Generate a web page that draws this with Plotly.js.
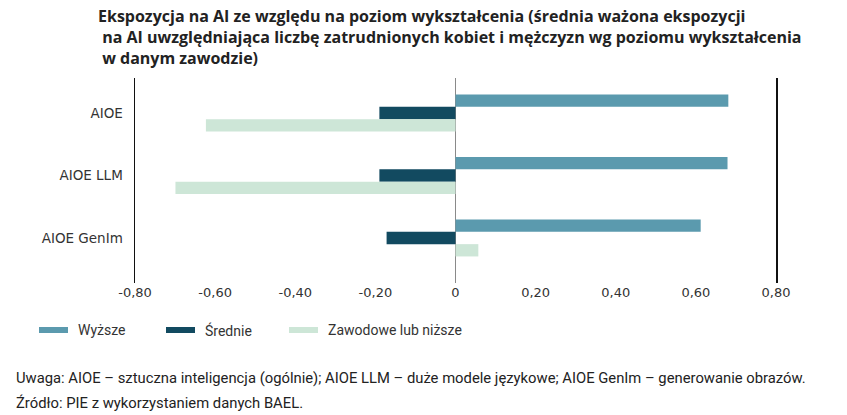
<!DOCTYPE html>
<html>
<head>
<meta charset="utf-8">
<script src="https://cdn.plot.ly/plotly-3.0.1.min.js"></script>
<style>
  html, body { margin: 0; padding: 0; background: #fff; }
  #plot { width: 847px; height: 415px; }
</style>
</head>
<body>
<div id="plot"></div>
<script>
// categories (top to bottom)
const categories = ['AIOE', 'AIOE LLM', 'AIOE GenIm'];

// series names and values
const seriesNames = ['Wyższe', 'Średnie', 'Zawodowe lub niższe'];
const wyzsze = [0.681, 0.679, 0.612];
const srednie = [-0.190, -0.190, -0.172];
const zawodowe = [-0.623, -0.699, 0.057];

const seriesColors = ['#5b9aae', '#124a60', '#cde6d7'];

const xTickVals = [-0.8, -0.6, -0.4, -0.2, 0, 0.2, 0.4, 0.6, 0.8];
const xTickText = ['-0,80', '-0,60', '-0,40', '-0,20', '0', '0,20', '0,40', '0,60', '0,80'];

const titleText = 'Ekspozycja na AI ze względu na poziom wykształcenia (średnia ważona ekspozycji<br>' +
    '&nbsp;na AI uwzględniająca liczbę zatrudnionych kobiet i mężczyzn wg poziomu wykształcenia<br>' +
    '&nbsp;w danym zawodzie)';
const noteText = 'Uwaga: AIOE – sztuczna inteligencja (ogólnie); AIOE LLM – duże modele językowe; AIOE GenIm – generowanie obrazów.';
const sourceText = 'Źródło: PIE z wykorzystaniem danych BAEL.';

const textFont = 'Roboto, sans-serif';
const titleFont = 'Open Sans, sans-serif';
const axisFont = 'DejaVu Sans, sans-serif';

let values = [wyzsze, srednie, zawodowe];
let traces = [];
for (let i = 0; i < seriesNames.length; i++) {
    traces.push({
        type: 'bar',
        orientation: 'h',
        name: seriesNames[i],
        y: categories,
        x: values[i],
        marker: {color: seriesColors[i]},
        hoverinfo: 'x+name'
    });
}

// pixel position -> paper coordinates (plot area 135..776 x 78..283)
function px(x) { return (x - 135) / 641; }
function py(y) { return (283 - y) / 205; }

// hand-made legend with wide swatches
let legendX = [39, 166, 289];
let shapes = [];
let annotations = [];
for (let i = 0; i < seriesNames.length; i++) {
    shapes.push({
        type: 'rect', xref: 'paper', yref: 'paper',
        x0: px(legendX[i]), x1: px(legendX[i] + 29),
        y0: py(333), y1: py(327),
        fillcolor: seriesColors[i], line: {width: 0}
    });
    annotations.push({
        xref: 'paper', yref: 'paper',
        x: px(legendX[i] + 37), y: py(330),
        xanchor: 'left', yanchor: 'middle', showarrow: false,
        text: seriesNames[i],
        font: {family: textFont, size: 14, color: '#333'}
    });
}

annotations.push({
    xref: 'paper', yref: 'paper',
    x: px(96), y: py(3),
    xanchor: 'left', yanchor: 'top', align: 'left', showarrow: false,
    text: titleText,
    font: {family: titleFont, size: 16, color: '#222', weight: 'bold'}
});
annotations.push({
    xref: 'paper', yref: 'paper',
    x: px(14), y: py(378),
    xanchor: 'left', yanchor: 'middle', showarrow: false,
    text: noteText,
    font: {family: textFont, size: 14.8, color: '#222'}
});
annotations.push({
    xref: 'paper', yref: 'paper',
    x: px(14), y: py(403),
    xanchor: 'left', yanchor: 'middle', showarrow: false,
    text: sourceText,
    font: {family: textFont, size: 14.8, color: '#222'}
});

let layout = {
    width: 847,
    height: 415,
    margin: {l: 135, r: 71, t: 78, b: 132},
    paper_bgcolor: '#fff',
    plot_bgcolor: '#fff',
    barmode: 'group',
    bargap: 0.41,
    bargroupgap: 0,
    showlegend: false,
    xaxis: {
        range: [-0.8, 0.8],
        tickvals: xTickVals,
        ticktext: xTickText,
        showgrid: false,
        zeroline: true,
        zerolinecolor: '#8a8a8a',
        zerolinewidth: 1.5,
        showline: false,
        ticks: '',
        tickfont: {family: axisFont, size: 13, color: '#333'},
        fixedrange: true
    },
    yaxis: {
        type: 'category',
        range: [2.72, -0.56],
        showgrid: false,
        zeroline: false,
        showline: true,
        mirror: true,
        linecolor: '#111',
        linewidth: 1.5,
        ticks: '',
        ticklabelstandoff: 8,
        tickfont: {family: axisFont, size: 13.5, color: '#333'},
        fixedrange: true
    },
    shapes: shapes,
    annotations: annotations
};

Plotly.newPlot('plot', traces, layout, {displayModeBar: false, staticPlot: true});
</script>
</body>
</html>
